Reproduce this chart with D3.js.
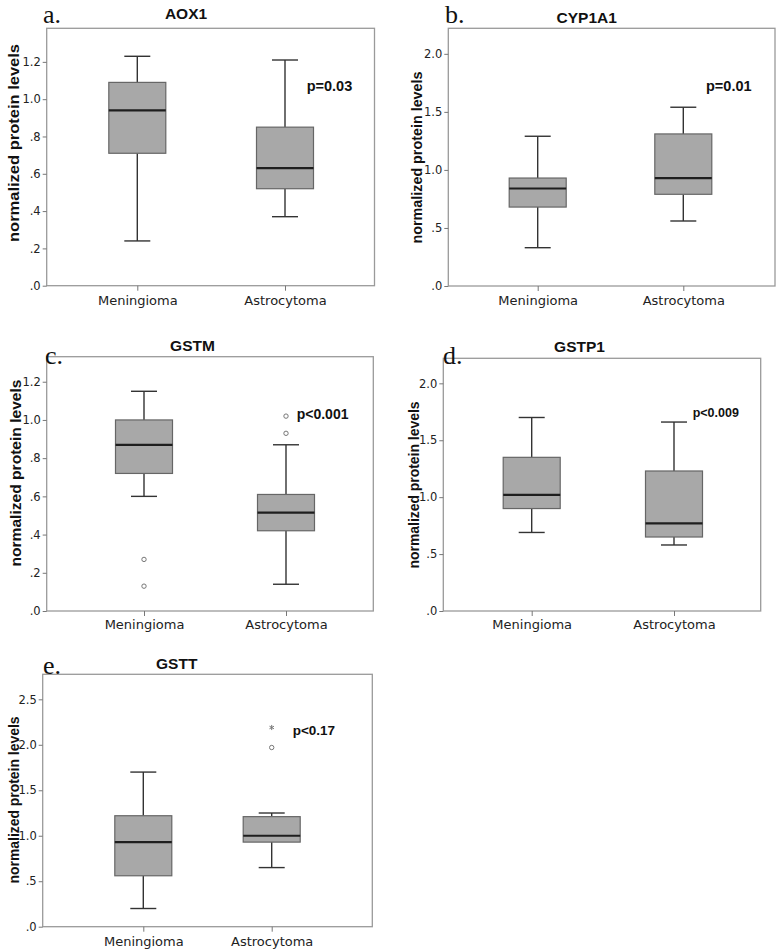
<!DOCTYPE html>
<html>
<head>
<meta charset="utf-8">
<script src="https://cdn.jsdelivr.net/npm/d3@7"></script>
<style>
  html, body { margin: 0; padding: 0; background: #fff; }
  svg { display: block; }
</style>
</head>
<body>
<svg id="chart" width="780" height="951"></svg>
<script>
// ---------------- DATA ----------------
const categories = ["Meningioma", "Astrocytoma"];
const panelLetters = ["a.", "b.", "c.", "d.", "e."];
const panelTitles = ["AOX1", "CYP1A1", "GSTM", "GSTP1", "GSTT"];
const pLabels = ["p=0.03", "p=0.01", "p<0.001", "p<0.009", "p<0.17"];
const yAxisTitle = "normalized protein levels";

// box stats per category: [lower whisker, Q1, median, Q3, upper whisker]
const aox1Stats   = [[0.24, 0.71, 0.94, 1.09, 1.23], [0.37, 0.52, 0.63, 0.85, 1.21]];
const cyp1a1Stats = [[0.33, 0.68, 0.84, 0.93, 1.29], [0.56, 0.79, 0.93, 1.31, 1.54]];
const gstmStats   = [[0.60, 0.72, 0.87, 1.00, 1.15], [0.14, 0.42, 0.515, 0.61, 0.87]];
const gstp1Stats  = [[0.69, 0.90, 1.02, 1.35, 1.70], [0.58, 0.65, 0.77, 1.23, 1.66]];
const gsttStats   = [[0.20, 0.56, 0.93, 1.22, 1.70], [0.65, 0.93, 1.00, 1.21, 1.25]];

// outliers (circles) and extremes (stars) per category
const aox1Outliers   = [[], []];
const cyp1a1Outliers = [[], []];
const gstmOutliers   = [[0.27, 0.13], [1.02, 0.93]];
const gstp1Outliers  = [[], []];
const gsttOutliers   = [[], [1.97]];
const gsttExtremes   = [[], [2.19]];

// y-axis ticks and labels
const ticks02 = [0, 0.2, 0.4, 0.6, 0.8, 1.0, 1.2];
const labels02 = [".0", ".2", ".4", ".6", ".8", "1.0", "1.2"];
const ticks05 = [0, 0.5, 1.0, 1.5, 2.0];
const labels05 = [".0", ".5", "1.0", "1.5", "2.0"];
const ticks05e = [0, 0.5, 1.0, 1.5, 2.0, 2.5];
const labels05e = [".0", ".5", "1.0", "1.5", "2.0", "2.5"];

// ---------------- LAYOUT (not data) ----------------
const panels = [
  { stats: aox1Stats, out: aox1Outliers, ext: [[], []], ticks: ticks02, tlabels: labels02, ymax: 1.38,
    L: 46.7, T: 28.3, R: 374.5, B: 285.7, cx: [137.3, 285], letter: [43, 22.7], title: [186, 19],
    p: [306.7, 90.7, 14.5], ylab: [14, 143, 198], catY: 305 },
  { stats: cyp1a1Stats, out: cyp1a1Outliers, ext: [[], []], ticks: ticks05, tlabels: labels05, ymax: 2.22,
    L: 448.3, T: 28.3, R: 775, B: 286, cx: [537.7, 683.3], letter: [445, 22.7], title: [586.7, 23],
    p: [706, 91, 14.5], ylab: [417, 157.5, 172], catY: 305 },
  { stats: gstmStats, out: gstmOutliers, ext: [[], []], ticks: ticks02, tlabels: labels02, ymax: 1.331,
    L: 46.7, T: 356.7, R: 373.3, B: 611, cx: [144, 286], letter: [45, 364], title: [192.5, 350.7],
    p: [296.7, 419, 14], ylab: [16, 473, 187], catY: 629 },
  { stats: gstp1Stats, out: gstp1Outliers, ext: [[], []], ticks: ticks05, tlabels: labels05, ymax: 2.22,
    L: 443.3, T: 358.3, R: 760.7, B: 611, cx: [531.7, 674], letter: [443, 364], title: [579.5, 352],
    p: [692.7, 417.3, 12.5], ylab: [414, 485, 167], catY: 629 },
  { stats: gsttStats, out: gsttOutliers, ext: gsttExtremes, ticks: ticks05e, tlabels: labels05e, ymax: 2.775,
    L: 42.7, T: 674.3, R: 372.3, B: 926.7, cx: [143.3, 271.7], letter: [43, 674.3], title: [176.7, 669],
    p: [292.7, 735, 13.5], ylab: [14, 800, 167], catY: 946 }
];

const svg = d3.select("#chart");
const BOX_W = 57, CAP_W = 26;

panels.forEach((P, i) => {
  const g = svg.append("g");
  const y = d3.scaleLinear().domain([0, P.ymax]).range([P.B, P.T]);
  const x = d3.scalePoint().domain(categories).range(P.cx);

  // frame
  g.append("rect")
    .attr("x", P.L).attr("y", P.T)
    .attr("width", P.R - P.L).attr("height", P.B - P.T)
    .attr("fill", "none").attr("stroke", "#9a9a9a").attr("stroke-width", 1.3);

  // y axis
  const ya = g.append("g").attr("transform", `translate(${P.L},0)`)
    .call(d3.axisLeft(y).tickValues(P.ticks).tickFormat((d, k) => P.tlabels[k]).tickSize(4).tickPadding(2));
  ya.select(".domain").remove();
  ya.selectAll(".tick line").attr("stroke", "#777");
  ya.selectAll(".tick text").attr("font-family", "'DejaVu Sans', sans-serif")
    .attr("font-size", 11.5).attr("fill", "#222");

  // x axis
  const xa = g.append("g").attr("transform", `translate(0,${P.B})`)
    .call(d3.axisBottom(x).tickSize(5).tickPadding(P.catY - P.B - 14.5));
  xa.select(".domain").remove();
  xa.selectAll(".tick line").attr("stroke", "#777");
  xa.selectAll(".tick text").attr("font-family", "'DejaVu Sans', sans-serif")
    .attr("font-size", 13).attr("fill", "#222");

  // boxes
  categories.forEach((c, k) => {
    const s = P.stats[k];
    const cx = x(c);
    g.append("line").attr("x1", cx).attr("x2", cx).attr("y1", y(s[0])).attr("y2", y(s[1]))
      .attr("stroke", "#333").attr("stroke-width", 1.4);
    g.append("line").attr("x1", cx).attr("x2", cx).attr("y1", y(s[3])).attr("y2", y(s[4]))
      .attr("stroke", "#333").attr("stroke-width", 1.4);
    [s[0], s[4]].forEach(v => {
      g.append("line").attr("x1", cx - CAP_W / 2).attr("x2", cx + CAP_W / 2)
        .attr("y1", y(v)).attr("y2", y(v)).attr("stroke", "#333").attr("stroke-width", 1.4);
    });
    g.append("rect").attr("x", cx - BOX_W / 2).attr("width", BOX_W)
      .attr("y", y(s[3])).attr("height", y(s[1]) - y(s[3]))
      .attr("fill", "#a8a8a8").attr("stroke", "#666").attr("stroke-width", 1.2);
    g.append("line").attr("x1", cx - BOX_W / 2).attr("x2", cx + BOX_W / 2)
      .attr("y1", y(s[2])).attr("y2", y(s[2])).attr("stroke", "#1e1e1e").attr("stroke-width", 2.2);
    P.out[k].forEach(v => {
      g.append("circle").attr("cx", cx).attr("cy", y(v)).attr("r", 2.2)
        .attr("fill", "none").attr("stroke", "#777").attr("stroke-width", 1);
    });
    P.ext[k].forEach(v => {
      const sym = d3.symbolAsterisk || d3.symbolCross;
      g.append("path").attr("d", d3.symbol(sym, 18)())
        .attr("transform", `translate(${cx},${y(v)})`)
        .attr("fill", "none").attr("stroke", "#777").attr("stroke-width", 1);
    });
  });

  // panel letter
  g.append("text").attr("x", P.letter[0]).attr("y", P.letter[1])
    .attr("font-family", "'Liberation Serif', 'Times New Roman', serif")
    .attr("font-size", 26).attr("fill", "#111").text(panelLetters[i]);

  // title
  g.append("text").attr("x", P.title[0]).attr("y", P.title[1])
    .attr("text-anchor", "middle")
    .attr("font-family", "'Liberation Sans', Arial, sans-serif")
    .attr("font-weight", "bold").attr("font-size", 15.5).attr("fill", "#111")
    .text(panelTitles[i]);

  // p value
  g.append("text").attr("x", P.p[0]).attr("y", P.p[1])
    .attr("font-family", "'Liberation Sans', Arial, sans-serif")
    .attr("font-weight", "bold").attr("font-size", P.p[2]).attr("fill", "#111")
    .text(pLabels[i]);

  // y axis title
  g.append("text")
    .attr("transform", `translate(${P.ylab[0]},${P.ylab[1]}) rotate(-90)`)
    .attr("text-anchor", "middle").attr("dy", "0.35em")
    .attr("font-family", "'Liberation Sans', Arial, sans-serif")
    .attr("font-weight", "bold").attr("font-size", 14).attr("fill", "#111")
    .attr("textLength", P.ylab[2]).attr("lengthAdjust", "spacingAndGlyphs")
    .text(yAxisTitle);
});
</script>
</body>
</html>
